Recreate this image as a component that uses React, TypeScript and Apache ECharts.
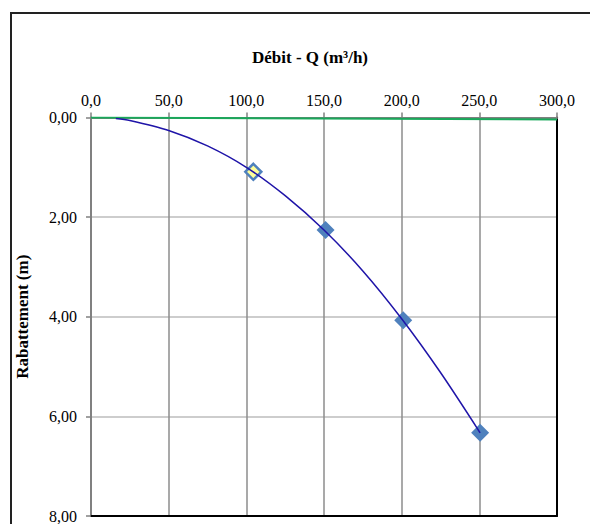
import React, { useEffect, useRef } from "react";
import * as echarts from "echarts";

const titleText = "Débit - Q (m³/h)";
const yName = "Rabattement (m)";
const curveQ = [16, 25, 50, 75, 100, 125, 150, 175, 200, 225, 250.5];
const curveS = [0.02, 0.06, 0.26, 0.57, 1.0, 1.57, 2.26, 3.08, 4.04, 5.12, 6.33];
const pointQ = [104.5, 151, 201, 250.5];
const pointS = [1.09, 2.26, 4.07, 6.33];
const refQ = [0, 300];
const refS = [0, 0.04];

const fmt = (v: number, d: number) => v.toFixed(d).replace(".", ",");

export default function App() {
  const ref = useRef<HTMLDivElement>(null);
  useEffect(() => {
    if (!ref.current) return;
    const chart = echarts.init(ref.current, null, { renderer: "svg" });
    const font = "Liberation Serif";
    chart.setOption({
      animation: false,
      backgroundColor: "#ffffff",
      textStyle: { fontFamily: font },
      grid: { left: 91, right: 33, top: 117.5, bottom: 5 },
      graphic: [
        {
          type: "rect",
          shape: { x: 11, y: 13, width: 700, height: 700 },
          style: { fill: "none", stroke: "#222", lineWidth: 2 },
          silent: true,
        },
        {
          type: "text",
          x: 310,
          y: 57,
          style: {
            text: titleText,
            fontFamily: font,
            fontSize: 17,
            fontWeight: "bold",
            fill: "#000",
            textAlign: "center",
            textVerticalAlign: "middle",
          },
        },
      ],
      xAxis: [
        {
          type: "value",
          position: "top",
          min: 0,
          max: 300,
          interval: 50,
          axisLine: { show: true, lineStyle: { color: "#808080", width: 2 } },
          axisTick: { show: true, inside: false, length: 5, lineStyle: { color: "#808080", width: 1.5 } },
          axisLabel: { color: "#000", fontSize: 16, fontFamily: font, margin: 9, formatter: (v: number) => fmt(v, 1) },
          splitLine: { show: true, lineStyle: { color: "#8c8c8c", width: 1.5 } },
        },
        {
          type: "value",
          position: "bottom",
          min: 0,
          max: 300,
          interval: 50,
          axisLine: { show: true, onZero: false, lineStyle: { color: "#000", width: 2 } },
          axisTick: { show: false },
          axisLabel: { show: false },
          splitLine: { show: false },
        },
      ],
      yAxis: [
        {
          type: "value",
          inverse: true,
          min: 0,
          max: 8,
          interval: 2,
          name: yName,
          nameLocation: "middle",
          nameGap: 60,
          nameRotate: 90,
          nameTextStyle: { color: "#000", fontSize: 17, fontWeight: "bold", fontFamily: font },
          axisLine: { show: true, onZero: false, lineStyle: { color: "#808080", width: 2 } },
          axisTick: { show: true, inside: false, length: 5, lineStyle: { color: "#808080", width: 1.5 } },
          axisLabel: { color: "#000", fontSize: 16, fontFamily: font, margin: 14, formatter: (v: number) => fmt(v, 2) },
          splitLine: { show: true, lineStyle: { color: "#bdbdbd", width: 1.5 } },
        },
        {
          type: "value",
          inverse: true,
          position: "right",
          min: 0,
          max: 8,
          interval: 2,
          axisLine: { show: true, onZero: false, lineStyle: { color: "#000", width: 2 } },
          axisTick: { show: false },
          axisLabel: { show: false },
          splitLine: { show: false },
        },
      ],
      series: [
        {
          type: "line",
          data: refQ.map((q, i) => [q, refS[i]]),
          showSymbol: false,
          lineStyle: { color: "#19a85a", width: 2 },
          z: 3,
        },
        {
          type: "line",
          data: curveQ.map((q, i) => [q, curveS[i]]),
          smooth: 0.3,
          showSymbol: false,
          lineStyle: { color: "#1f14a8", width: 1.5 },
          z: 4,
        },
        {
          type: "scatter",
          data: pointQ.map((q, i) => ({
            value: [q, pointS[i]],
            symbolSize: i === 0 ? 16 : 18,
            itemStyle:
              i === 0
                ? { color: "#ffff99", borderColor: "#4f81bd", borderWidth: 2.5, opacity: 1 }
                : { color: "#4f81bd", opacity: 1 },
          })),
          symbol: "diamond",
          itemStyle: { opacity: 1 },
          z: 3,
        },
      ],
    });
    return () => chart.dispose();
  }, []);
  return (
    <div
      ref={ref}
      style={{ position: "absolute", left: 0, top: 0, width: 590, height: 524 }}
    />
  );
}
